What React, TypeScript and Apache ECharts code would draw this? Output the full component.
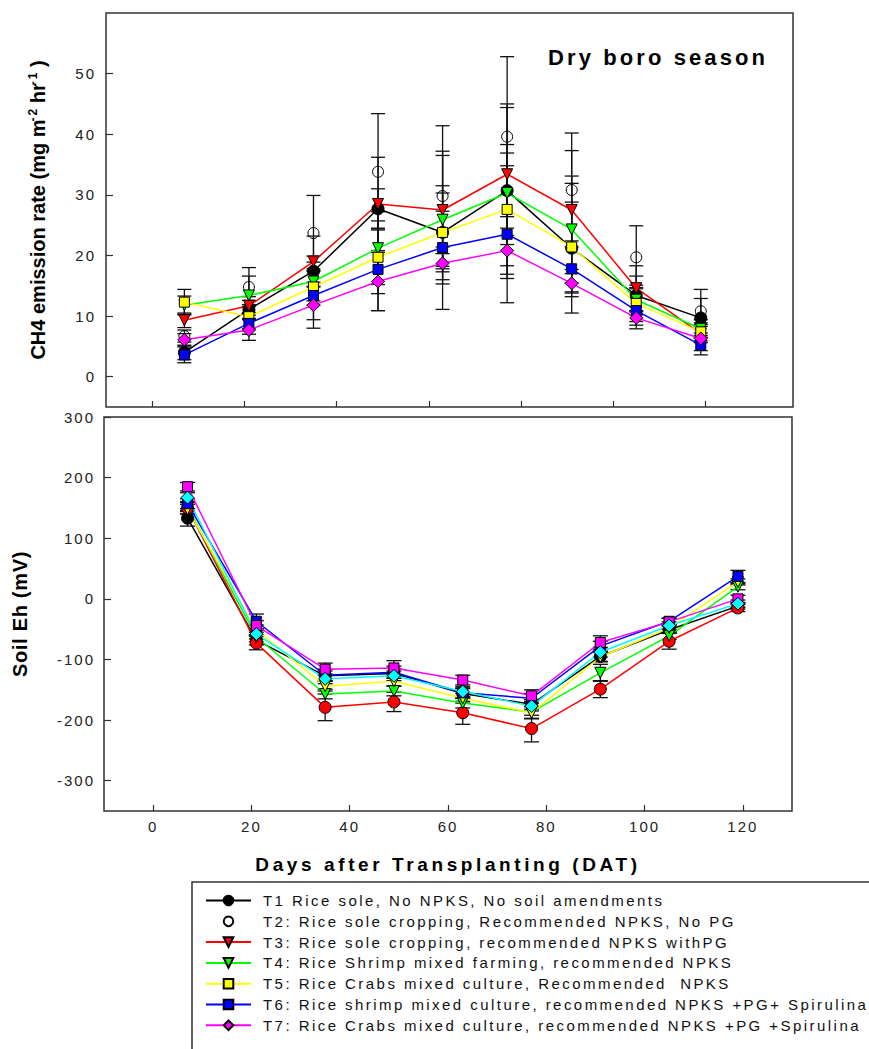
import React, { useEffect, useRef } from 'react';
import * as echarts from 'echarts';

const days = [7, 21, 35, 49, 63, 77, 91, 105, 119];
const xTicks = [0, 20, 40, 60, 80, 100, 120];
const ch4Ticks = [0, 10, 20, 30, 40, 50];
const ehTicks = [-300, -200, -100, 0, 100, 200, 300];

const legendNames = [
  'T1 Rice sole, No NPKS, No soil amendments',
  'T2: Rice sole cropping, Recommended NPKS, No PG',
  'T3: Rice sole cropping, recommended NPKS withPG',
  'T4: Rice Shrimp mixed farming, recommended NPKS',
  'T5: Rice Crabs mixed culture, Recommended  NPKS',
  'T6: Rice shrimp mixed culture, recommended NPKS +PG+ Spirulina',
  'T7: Rice Crabs mixed culture, recommended NPKS +PG +Spirulina',
];

// CH4 emission rate (mg m-2 hr-1)
const ch4T1 = [4.0, 11.1, 17.4, 27.7, 23.8, 30.7, 21.2, 13.4, 9.7];
const ch4T2 = [6.7, 14.8, 23.7, 33.8, 29.8, 39.6, 30.8, 19.7, 10.8];
const ch4T3 = [9.3, 11.7, 19.0, 28.5, 27.5, 33.4, 27.5, 14.6, 7.1];
const ch4T4 = [11.8, 13.4, 15.7, 21.2, 25.9, 30.3, 24.3, 12.7, 7.9];
const ch4T5 = [12.3, 9.9, 14.8, 19.7, 23.8, 27.6, 21.4, 12.1, 7.4];
const ch4T6 = [3.6, 8.8, 13.4, 17.7, 21.3, 23.5, 17.8, 10.9, 5.2];
const ch4T7 = [6.1, 7.7, 11.8, 15.7, 18.7, 20.8, 15.4, 9.7, 6.3];

const ch4ErrT1 = [1.2, 1.5, 2.5, 3.3, 12.7, 6.2, 10.7, 3.2, 3.2];
const ch4ErrT2 = [1.0, 3.2, 6.2, 9.6, 11.6, 13.2, 9.4, 5.2, 3.6];
const ch4ErrT3 = [1.2, 1.5, 4.2, 7.7, 9.7, 11.6, 9.8, 3.7, 1.5];
const ch4ErrT4 = [1.5, 3.2, 3.2, 6.0, 5.6, 14.1, 8.8, 2.0, 1.5];
const ch4ErrT5 = [2.1, 2.0, 3.0, 6.0, 6.5, 10.7, 7.4, 3.0, 1.5];
const ch4ErrT6 = [1.3, 1.8, 4.0, 6.8, 6.0, 11.3, 4.6, 3.0, 1.6];
const ch4ErrT7 = [1.0, 1.7, 3.8, 4.8, 2.7, 2.5, 1.6, 1.2, 2.0];

// Soil Eh (mV)
const ehBlack = [133, -68, -127, -123, -156, -174, -95, -51, -12];
const ehRed = [150, -73, -179, -170, -188, -214, -149, -70, -15];
const ehGreen = [152, -63, -157, -152, -172, -187, -122, -61, 20];
const ehYellow = [148, -51, -144, -136, -164, -188, -96, -48, 28];
const ehBlue = [157, -37, -126, -121, -155, -164, -78, -37, 37];
const ehMagenta = [185, -44, -116, -114, -134, -160, -72, -38, 0];
const ehCyan = [167, -58, -132, -127, -153, -177, -88, -44, -8];

const ehErrBlack = [13, 8, 8, 8, 8, 8, 8, 6, 5];
const ehErrRed = [10, 11, 22, 16, 19, 22, 14, 13, 6];
const ehErrGreen = [8, 8, 8, 8, 8, 10, 14, 6, 5];
const ehErrYellow = [8, 8, 8, 8, 8, 10, 8, 6, 5];
const ehErrBlue = [8, 12, 10, 10, 8, 8, 8, 5, 10];
const ehErrMagenta = [7, 8, 10, 12, 8, 10, 11, 6, 6];
const ehErrCyan = [8, 8, 8, 8, 8, 8, 8, 6, 6];

const FONT = "'Liberation Sans', Arial, sans-serif";
const DOWN_TRI = 'path://M0,0L10,0L5,9Z';

const spacingFor = (s: string): number => {
  if (s === 'Dry boro season') return 3.1;
  if (s.startsWith('Days after')) return 3.6;
  if (s.startsWith('Soil Eh')) return 0.7;
  if (/^T\d/.test(s)) return 2.45;
  if (/^-?\d+$/.test(s)) return 2;
  return 0;
};

function applySpacing(root: HTMLElement | null) {
  if (!root) return;
  root.querySelectorAll('text').forEach((t) => {
    const ls = spacingFor((t.textContent || '').trim());
    if (ls) (t as SVGTextElement).style.letterSpacing = ls + 'px';
  });
}

export default function App() {
  const ref = useRef<HTMLDivElement>(null);

  useEffect(() => {
    if (!ref.current) return;
    const chart = echarts.init(ref.current, undefined, { renderer: 'svg' });

    const topDefs = [
      { name: legendNames[0], data: ch4T1, err: ch4ErrT1, fill: '#000000', line: '#000000', symbol: 'circle', size: 12, showLine: true },
      { name: legendNames[1], data: ch4T2, err: ch4ErrT2, fill: 'rgba(255,255,255,0)', line: '#000000', symbol: 'circle', size: 11, showLine: false },
      { name: legendNames[2], data: ch4T3, err: ch4ErrT3, fill: '#ff0000', line: '#ff0000', symbol: DOWN_TRI, size: 11, showLine: true },
      { name: legendNames[3], data: ch4T4, err: ch4ErrT4, fill: '#00ff00', line: '#00ff00', symbol: DOWN_TRI, size: 11, showLine: true },
      { name: legendNames[4], data: ch4T5, err: ch4ErrT5, fill: '#ffff00', line: '#ffff00', symbol: 'rect', size: 10, showLine: true },
      { name: legendNames[5], data: ch4T6, err: ch4ErrT6, fill: '#0000ff', line: '#0000ff', symbol: 'rect', size: 10, showLine: true },
      { name: legendNames[6], data: ch4T7, err: ch4ErrT7, fill: '#ff00ff', line: '#ff00ff', symbol: 'diamond', size: 13, showLine: true },
    ];

    const botDefs = [
      { name: 'Eh black', data: ehBlack, err: ehErrBlack, fill: '#000000', symbol: 'circle', size: 12 },
      { name: 'Eh red', data: ehRed, err: ehErrRed, fill: '#ff0000', symbol: 'circle', size: 12 },
      { name: 'Eh green', data: ehGreen, err: ehErrGreen, fill: '#00ff00', symbol: DOWN_TRI, size: 11 },
      { name: 'Eh yellow', data: ehYellow, err: ehErrYellow, fill: '#ffff00', symbol: DOWN_TRI, size: 11 },
      { name: 'Eh blue', data: ehBlue, err: ehErrBlue, fill: '#0000ff', symbol: 'rect', size: 10 },
      { name: 'Eh magenta', data: ehMagenta, err: ehErrMagenta, fill: '#ff00ff', symbol: 'rect', size: 10 },
      { name: 'Eh cyan', data: ehCyan, err: ehErrCyan, fill: '#00ffff', symbol: 'diamond', size: 13 },
    ];

    const errData = (defs: { data: number[]; err: number[] }[]) => {
      const out: number[][] = [];
      defs.forEach((d) => {
        days.forEach((day, i) => {
          out.push([day, d.data[i] - d.err[i], d.data[i] + d.err[i]]);
        });
      });
      return out;
    };

    const errSeries = (idx: number, data: number[][], hw: number) => ({
      type: 'custom',
      name: 'err' + idx,
      xAxisIndex: idx,
      yAxisIndex: idx,
      silent: true,
      z: 1,
      encode: { x: 0, y: [1, 2] },
      data,
      renderItem: (params: any, api: any) => {
        const x = api.value(0);
        const lo = api.coord([x, api.value(1)]);
        const hi = api.coord([x, api.value(2)]);
        const st = { stroke: '#111', lineWidth: 1.3 };
        return {
          type: 'group',
          children: [
            { type: 'line', shape: { x1: lo[0], y1: lo[1], x2: hi[0], y2: hi[1] }, style: st },
            { type: 'line', shape: { x1: lo[0] - hw, y1: lo[1], x2: lo[0] + hw, y2: lo[1] }, style: st },
            { type: 'line', shape: { x1: hi[0] - hw, y1: hi[1], x2: hi[0] + hw, y2: hi[1] }, style: st },
          ],
        };
      },
    });

    const topSeries = topDefs.map((d) => ({
      type: 'line',
      name: d.name,
      xAxisIndex: 0,
      yAxisIndex: 0,
      z: 3,
      data: days.map((day, i) => [day, d.data[i]]),
      symbol: d.symbol,
      symbolSize: d.size,
      showSymbol: true,
      itemStyle: { color: d.fill, borderColor: '#000', borderWidth: 1 },
      lineStyle: { color: d.line, width: 1.5, opacity: d.showLine ? 1 : 0 },
      emphasis: { disabled: true },
    }));

    const botSeries = botDefs.map((d) => ({
      type: 'line',
      name: d.name,
      xAxisIndex: 1,
      yAxisIndex: 1,
      z: 3,
      data: days.map((day, i) => [day, d.data[i]]),
      symbol: d.symbol,
      symbolSize: d.size,
      showSymbol: true,
      itemStyle: { color: d.fill, borderColor: '#000', borderWidth: 1 },
      lineStyle: { color: d.fill, width: 1.5 },
      emphasis: { disabled: true },
    }));

    const tickStyle = { color: '#333', width: 1.2 };
    const labelStyle = { fontFamily: FONT, fontSize: 15, color: '#222' };
    const noLine = { show: false, onZero: false };

    const option: any = {
      animation: false,
      backgroundColor: '#ffffff',
      grid: [
        { left: 106, top: 13, width: 687, height: 394, show: true, borderColor: '#333', borderWidth: 1.5, backgroundColor: 'rgba(0,0,0,0)' },
        { left: 104, top: 417, width: 688, height: 394, show: true, borderColor: '#333', borderWidth: 1.5, backgroundColor: 'rgba(0,0,0,0)' },
      ],
      xAxis: [
        {
          type: 'value', gridIndex: 0, min: -10, max: 139, position: 'bottom',
          axisLine: noLine, splitLine: { show: false },
          axisTick: { show: true, inside: true, length: 6, customValues: xTicks, lineStyle: tickStyle },
          axisLabel: { show: false },
        },
        {
          type: 'value', gridIndex: 1, min: -10, max: 130, position: 'bottom',
          axisLine: noLine, splitLine: { show: false },
          axisTick: { show: true, inside: true, length: 6, customValues: xTicks, lineStyle: tickStyle },
          axisLabel: { show: true, customValues: xTicks, margin: 8, ...labelStyle },
          name: 'Days after Transplanting (DAT)',
          nameLocation: 'middle',
          nameGap: 44,
          nameTextStyle: { fontFamily: FONT, fontSize: 19, fontWeight: 'bold', color: '#000' },
        },
      ],
      yAxis: [
        {
          type: 'value', gridIndex: 0, min: -5, max: 60, position: 'left',
          axisLine: noLine, splitLine: { show: false },
          axisTick: { show: true, inside: true, length: 7, customValues: ch4Ticks, lineStyle: tickStyle },
          axisLabel: { show: true, customValues: ch4Ticks, margin: 10, ...labelStyle },
          name: '{a|CH4 emission rate (mg m}{s|-2}{a| hr}{s|-1}{a| )}',
          nameLocation: 'middle',
          nameGap: 57,
          nameTextStyle: {
            rich: {
              a: { fontFamily: FONT, fontSize: 20, fontWeight: 'bold', color: '#000', lineHeight: 22 },
              s: { fontFamily: FONT, fontSize: 12, fontWeight: 'bold', color: '#000', lineHeight: 22, verticalAlign: 'top' },
            },
          },
        },
        {
          type: 'value', gridIndex: 1, min: -350, max: 300, position: 'left',
          axisLine: noLine, splitLine: { show: false },
          axisTick: { show: true, inside: true, length: 7, customValues: ehTicks, lineStyle: tickStyle },
          axisLabel: { show: true, customValues: ehTicks, margin: 9, ...labelStyle },
          name: 'Soil Eh (mV)',
          nameLocation: 'middle',
          nameGap: 74,
          nameTextStyle: { fontFamily: FONT, fontSize: 20, fontWeight: 'bold', color: '#000' },
        },
      ],
      legend: {
        data: legendNames,
        orient: 'vertical',
        left: 205,
        top: 893,
        padding: 0,
        itemWidth: 45,
        itemHeight: 12,
        itemGap: 5.8,
        selectedMode: false,
        textStyle: { fontFamily: FONT, fontSize: 15, color: '#111', lineHeight: 12, padding: [0, 0, 0, 7] },
      },
      graphic: [
        {
          type: 'rect',
          shape: { x: 192, y: 882, width: 700, height: 200 },
          style: { fill: 'rgba(0,0,0,0)', stroke: '#333', lineWidth: 1.5 },
          silent: true,
        },
        {
          type: 'text',
          x: 548,
          y: 57,
          style: { text: 'Dry boro season', fontFamily: FONT, fontSize: 22, fontWeight: 'bold', fill: '#000', align: 'left', verticalAlign: 'middle' },
          silent: true,
        },
      ],
      series: [
        errSeries(0, errData(topDefs), 7),
        errSeries(1, errData(botDefs), 7.5),
        ...topSeries,
        ...botSeries,
      ],
    };

    chart.setOption(option);
    applySpacing(ref.current);
    const onFinished = () => applySpacing(ref.current);
    chart.on('finished', onFinished);

    return () => {
      chart.off('finished', onFinished);
      chart.dispose();
    };
  }, []);

  return (
    <div
      ref={ref}
      style={{ position: 'absolute', left: 0, top: 0, width: 869, height: 1049, background: '#fff' }}
    />
  );
}
